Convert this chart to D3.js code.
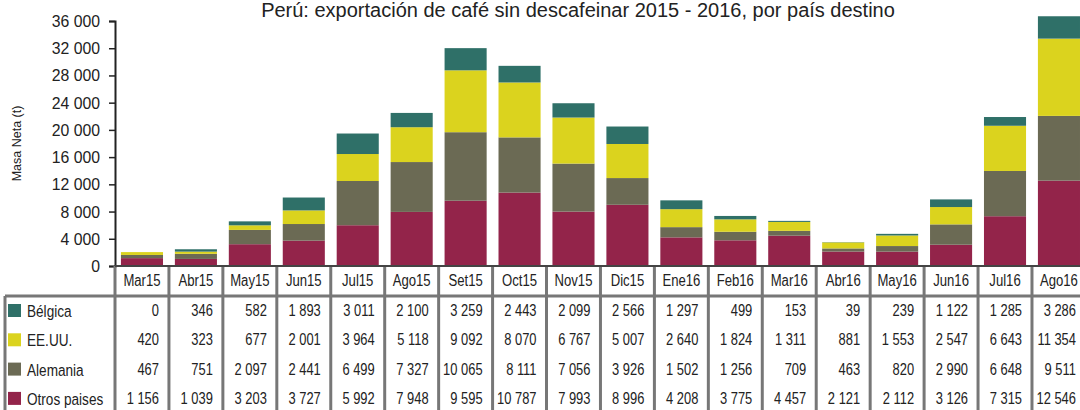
<!DOCTYPE html>
<html>
<head>
<meta charset="utf-8">
<script src="https://cdn.jsdelivr.net/npm/d3@7"></script>
<style>
  body { margin: 0; background: #fff; }
  svg { font-family: "Liberation Sans", Arial, sans-serif; display: block; }
</style>
</head>
<body>
<svg width="1080" height="410"></svg>
<script>
const months = ["Mar15", "Abr15", "May15", "Jun15", "Jul15", "Ago15", "Set15", "Oct15", "Nov15",
  "Dic15", "Ene16", "Feb16", "Mar16", "Abr16", "May16", "Jun16", "Jul16", "Ago16"];
const seriesNames = ["Bélgica", "EE.UU.", "Alemania", "Otros paises"];
const belgica = [0, 346, 582, 1893, 3011, 2100, 3259, 2443, 2099, 2566, 1297, 499, 153, 39, 239, 1122, 1285, 3286];
const eeuu = [420, 323, 677, 2001, 3964, 5118, 9092, 8070, 6767, 5007, 2640, 1824, 1311, 881, 1553, 2547, 6643, 11354];
const alemania = [467, 751, 2097, 2441, 6499, 7327, 10065, 8111, 7056, 3926, 1502, 1256, 709, 463, 820, 2990, 6648, 9511];
const otros = [1156, 1039, 3203, 3727, 5992, 7948, 9595, 10787, 7993, 8996, 4208, 3775, 4457, 2121, 2112, 3126, 7315, 12546];
const yTicks = [0, 4000, 8000, 12000, 16000, 20000, 24000, 28000, 32000, 36000];

const colors = {
  "Bélgica": "#2f7068",
  "EE.UU.": "#dbd31e",
  "Alemania": "#6b6a54",
  "Otros paises": "#93244a"
};

const svg = d3.select("svg");
const width = +svg.attr("width");

const margin = { top: 21, left: 115 };
const innerHeight = 245;
const colW = 53.94;
const tableTop = margin.top + innerHeight;   // category row top
const rowTop = tableTop + 30;                // data rows top
const firstBaseline = 316;
const rowStep = 29.3;
const gridColor = "#777";
const narrow = 0.76;   // the reference uses a condensed face

// Build a table of rows for d3.stack
const valuesByName = { "Bélgica": belgica, "EE.UU.": eeuu, "Alemania": alemania, "Otros paises": otros };
const table = months.map((m, i) => {
  const row = { month: m };
  seriesNames.forEach(s => row[s] = valuesByName[s][i]);
  return row;
});
// stacking order: bottom = Otros paises, top = Bélgica
const stackKeys = seriesNames.slice().reverse();
const stacked = d3.stack().keys(stackKeys)(table);

const x = d3.scaleBand()
  .domain(months)
  .range([margin.left, margin.left + colW * months.length])
  .paddingInner(0.22)
  .paddingOuter(0.11);

const y = d3.scaleLinear()
  .domain([0, 36000])
  .range([margin.top + innerHeight, margin.top]);

const locale = d3.formatLocale({ decimal: ",", thousands: " ", grouping: [3], currency: ["", ""] });
const fmt = locale.format(",d");

// Title
svg.append("text")
  .attr("x", 578)
  .attr("y", 17)
  .attr("text-anchor", "middle")
  .attr("font-size", 20)
  .attr("fill", "#222")
  .text("Perú: exportación de café sin descafeinar 2015 - 2016, por país destino");

// Bars
svg.append("g")
  .selectAll("g")
  .data(stacked)
  .join("g")
  .attr("fill", d => colors[d.key])
  .selectAll("rect")
  .data(d => d)
  .join("rect")
  .attr("x", d => x(d.data.month))
  .attr("width", x.bandwidth())
  .attr("y", d => y(d[1]))
  .attr("height", d => y(d[0]) - y(d[1]));

// Y axis
const yAxisG = svg.append("g")
  .attr("transform", `translate(${margin.left},0)`)
  .call(d3.axisLeft(y).tickValues(yTicks).tickFormat(fmt).tickSize(6).tickPadding(10));
yAxisG.select(".domain").attr("stroke", "#222").attr("stroke-width", 2);
yAxisG.selectAll(".tick line").attr("stroke", "#222").attr("stroke-width", 1.5);
yAxisG.selectAll(".tick text")
  .attr("font-size", 17)
  .attr("fill", "#222")
  .attr("font-family", "Liberation Sans, Arial, sans-serif")
  .attr("transform", "scale(0.93,1)");

svg.append("text")
  .attr("transform", `translate(21,${margin.top + innerHeight / 2}) rotate(-90)`)
  .attr("text-anchor", "middle")
  .attr("font-size", 12.5)
  .attr("fill", "#222")
  .text("Masa Neta (t)");

// Table grid
const grid = svg.append("g").attr("stroke", gridColor).attr("stroke-width", 3);
const colEdges = d3.range(months.length + 1).map(i => margin.left + i * colW);
grid.selectAll("line.v")
  .data(colEdges)
  .join("line")
  .attr("x1", d => d).attr("x2", d => d)
  .attr("y1", tableTop).attr("y2", 412);
grid.append("line")
  .attr("x1", 5).attr("x2", width)
  .attr("y1", rowTop).attr("y2", rowTop);
grid.append("line")
  .attr("x1", 5).attr("x2", 5)
  .attr("y1", rowTop).attr("y2", 412);

// x axis line on top of the category row
svg.append("line")
  .attr("x1", margin.left).attr("x2", width)
  .attr("y1", tableTop).attr("y2", tableTop)
  .attr("stroke", "#444").attr("stroke-width", 2);

// Category labels
svg.append("g")
  .selectAll("text")
  .data(months)
  .join("text")
  .attr("transform", d => `translate(${x(d) + x.bandwidth() / 2},${tableTop + 20}) scale(0.82,1)`)
  .attr("text-anchor", "middle")
  .attr("font-size", 16)
  .attr("fill", "#222")
  .text(d => d);

// Legend column and values
seriesNames.forEach((s, r) => {
  const base = firstBaseline + rowStep * r;
  svg.append("rect")
    .attr("x", 8).attr("y", base - 12)
    .attr("width", 13).attr("height", 13)
    .attr("fill", colors[s]);
  svg.append("text")
    .attr("transform", `translate(27,${base + 1}) scale(0.8,1)`)
    .attr("font-size", 17)
    .attr("fill", "#222")
    .text(s);
  svg.append("g")
    .selectAll("text")
    .data(valuesByName[s])
    .join("text")
    .attr("transform", (d, i) => `translate(${margin.left + (i + 1) * colW - 10},${base}) scale(${narrow},1)`)
    .attr("text-anchor", "end")
    .attr("font-size", 17)
    .attr("fill", "#222")
    .text(d => fmt(d));
});
</script>
</body>
</html>
